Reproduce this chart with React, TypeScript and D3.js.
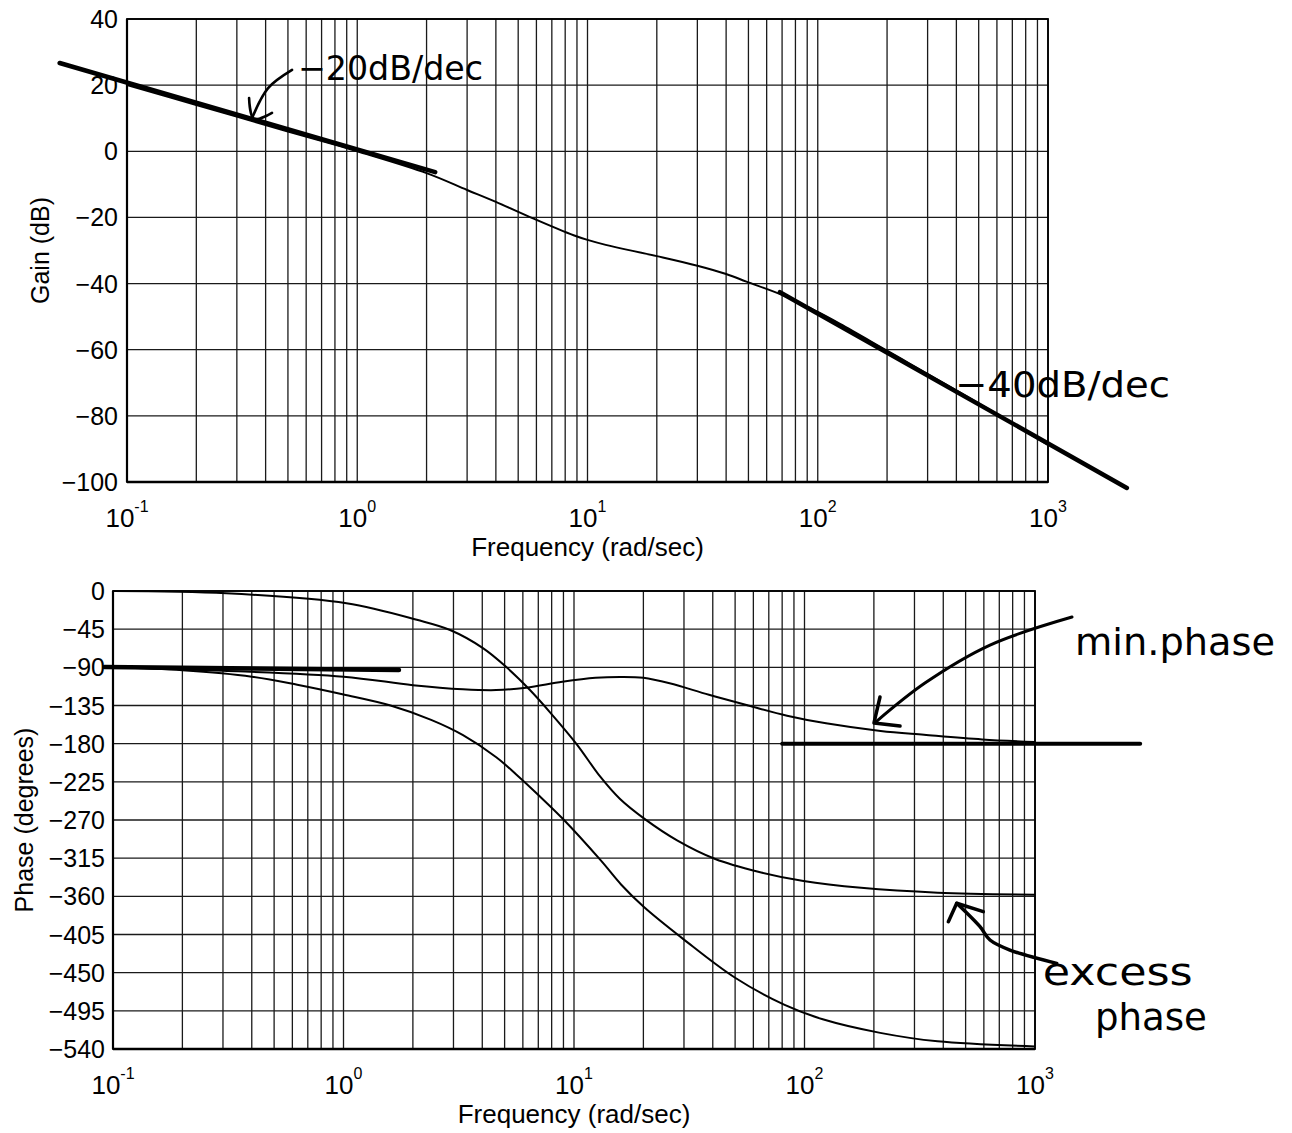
import React from "react";
import * as d3 from "d3";

// ---------- data ----------
const freqDecades = [-1, 0, 1, 2, 3];
const gainTicks = [40, 20, 0, -20, -40, -60, -80, -100];
const phaseTicks = [0, -45, -90, -135, -180, -225, -270, -315, -360, -405, -450, -495, -540];

const gainFreq = [0.1, 0.2, 0.5, 0.84, 1, 2, 3, 4, 5.8, 8.7, 10, 12, 20, 30, 40, 49, 71, 100, 125, 200, 500, 1000];
const gainDb = [20, 14, 6, 1.6, 0, -6.6, -11.7, -15.3, -20.3, -25.4, -26.8, -28.3, -31.7, -34.6, -37.1, -39.4, -43.6, -48.6, -52.2, -60.3, -76.2, -88.8];

const minFreq = [0.1, 0.3, 1, 2, 3.3, 4.6, 6.2, 8.9, 12.4, 16, 20, 26, 38.5, 57, 84, 124, 214, 330, 590, 1000];
const minDeg = [-90, -94, -101, -111, -115.8, -116.8, -114, -107, -102.3, -101.3, -102.3, -108.8, -122.4, -135, -147, -156, -165, -169.5, -175, -178];

const excessFreq = [0.1, 0.31, 1.03, 2.08, 2.9, 4.04, 5.1, 6.44, 7.87, 10.3, 13, 15.8, 20.3, 28, 41, 63, 99, 176, 378, 1000];
const excessDeg = [0, -2.7, -14.5, -34, -46, -67.6, -90, -116.7, -143, -181, -219, -245, -269, -294, -316, -331, -342, -350, -355.7, -358];

const totalFreq = [0.1, 0.2, 0.4, 0.63, 1, 1.6, 2.4, 3.3, 4.6, 5.6, 7.1, 8.9, 13.1, 16, 20, 30, 50, 82, 120, 213, 378, 1000];
const totalDeg = [-90, -93.5, -101, -110.5, -122, -135, -152, -170, -196, -216, -242, -268, -318, -346, -372, -411, -456, -488, -505, -521, -531, -537];

// hand-drawn asymptotes
const slope20Freq = [0.051, 2.18];
const slope20Db = [26.7, -6.3];
const slope40Freq = [68.5, 2200];
const slope40Db = [-42.6, -101.8];
const phase90Freq = [0.092, 1.74];
const phase90Deg = [-89.5, -93];
const phase180Freq = [80, 2860];
const phase180Deg = [-180, -180];

// hand-drawn arrows (data coordinates)
const arrow20Freq = [0.521, 0.41, 0.3525];
const arrow20Db = [24.6, 19.1, 10.67];
const arrow20HeadFreq = [0.339, 0.356, 0.4263];
const arrow20HeadDb = [16.1, 9.76, 11.6];

const arrowMinFreq = [1447, 638, 333, 206];
const arrowMinDeg = [-30.7, -63.7, -108.5, -153.3];
const arrowMinHeadFreq = [212.6, 200.2, 259.7];
const arrowMinHeadDeg = [-125, -155.6, -159.2];

const arrowExFreq = [1242.6, 778.9, 638, 577.4, 457.5];
const arrowExDeg = [-439, -423.3, -411.5, -395.8, -368.2];
const arrowExHeadFreq = [420.7, 457.5, 596.7];
const arrowExHeadDeg = [-389.9, -368.2, -378.1];

// ---------- layout ----------
const W = 1292;
const H = 1133;
const FONT = "'Liberation Sans', Arial, Helvetica, sans-serif";
const HAND = "'DejaVu Sans', 'Noto Sans', sans-serif";

const X1 = d3.scaleLog().domain([0.1, 1000]).range([127, 1048]);
const Y1 = d3.scaleLinear().domain([-100, 40]).range([482, 19]);
const X2 = d3.scaleLog().domain([0.1, 1000]).range([113, 1035]);
const Y2 = d3.scaleLinear().domain([-540, 0]).range([1049, 591]);

function minorFreqs(): number[] {
  const out: number[] = [];
  for (let d = -1; d < 3; d++) {
    for (let k = 1; k <= 9; k++) out.push(k * Math.pow(10, d));
  }
  out.push(1000);
  return out;
}

function pathOf(xs: number[], ys: number[], xs_: any, ys_: any, smooth = true) {
  const pts = xs.map((f, i) => [xs_(f), ys_(ys[i])] as [number, number]);
  const gen = d3.line<[number, number]>().x((p) => p[0]).y((p) => p[1]);
  if (smooth) gen.curve(d3.curveCatmullRom.alpha(0.5));
  return gen(pts) || "";
}

function pathRaw(xs: number[], ys: number[], xs_: any, ys_: any) {
  const pts = xs.map((f, i) => [xs_(f), ys_(ys[i])] as [number, number]);
  return d3.line<[number, number]>().curve(d3.curveCatmullRom)(pts) || "";
}

function Panel({ X, Y, yTicks, yLabel, yLabelX, labelGap }: any) {
  const [x0, x1] = X.range();
  const [yb, yt] = Y.range();
  const grid = minorFreqs();
  return (
    <g>
      {grid.map((f, i) => (
        <line key={"v" + i} x1={X(f)} x2={X(f)} y1={yt} y2={yb} stroke="#1a1a1a" strokeWidth={1.3} />
      ))}
      {yTicks.map((t: number, i: number) => (
        <line key={"h" + i} x1={x0} x2={x1} y1={Y(t)} y2={Y(t)} stroke="#1a1a1a" strokeWidth={1.3} />
      ))}
      <rect x={x0} y={yt} width={x1 - x0} height={yb - yt} fill="none" stroke="#000" strokeWidth={1.8} />
      <line x1={x0} x2={x0} y1={yt} y2={yb} stroke="#000" strokeWidth={2.2} />
      <line x1={x0} x2={x1} y1={yb} y2={yb} stroke="#000" strokeWidth={2.4} />
      {yTicks.map((t: number, i: number) => (
        <text key={"yl" + i} x={x0 - labelGap} y={Y(t)} dy="0.36em" textAnchor="end" fontFamily={FONT} fontSize={25} fill="#000">
          {t < 0 ? "\u2212" + Math.abs(t) : String(t)}
        </text>
      ))}
      {freqDecades.map((d, i) => (
        <text key={"xl" + i} x={X(Math.pow(10, d))} y={yb + 45} textAnchor="middle" fontFamily={FONT} fontSize={26} fill="#000">
          10
          <tspan fontSize={16} dy={-15}>{d < 0 ? "-" + Math.abs(d) : String(d)}</tspan>
        </text>
      ))}
      <text x={(x0 + x1) / 2} y={yb + 74} textAnchor="middle" fontFamily={FONT} fontSize={26} fill="#000">
        Frequency (rad/sec)
      </text>
      <text
        transform={`translate(${yLabelX},${(yt + yb) / 2}) rotate(-90)`}
        textAnchor="middle"
        dy="0.35em"
        fontFamily={FONT}
        fontSize={25}
        fill="#000"
      >
        {yLabel}
      </text>
    </g>
  );
}

export default function App() {
  return (
    <div style={{ position: "absolute", left: 0, top: 0, background: "#fff" }}>
      <svg width={W} height={H} viewBox={`0 0 ${W} ${H}`} style={{ display: "block", background: "#fff" }}>
        <rect x={0} y={0} width={W} height={H} fill="#fff" />
        <Panel X={X1} Y={Y1} yTicks={gainTicks} yLabel="Gain (dB)" yLabelX={40} labelGap={9} />
        <Panel X={X2} Y={Y2} yTicks={phaseTicks} yLabel="Phase (degrees)" yLabelX={24} labelGap={8} />

        {/* gain curve */}
        <path d={pathOf(gainFreq, gainDb, X1, Y1)} fill="none" stroke="#000" strokeWidth={2} />
        {/* phase curves */}
        <path d={pathOf(minFreq, minDeg, X2, Y2)} fill="none" stroke="#000" strokeWidth={2} />
        <path d={pathOf(excessFreq, excessDeg, X2, Y2)} fill="none" stroke="#000" strokeWidth={2} />
        <path d={pathOf(totalFreq, totalDeg, X2, Y2)} fill="none" stroke="#000" strokeWidth={2} />

        {/* hand drawn asymptotes */}
        <path d={pathOf(slope20Freq, slope20Db, X1, Y1, false)} fill="none" stroke="#000" strokeWidth={4.5} strokeLinecap="round" />
        <path d={pathOf(slope40Freq, slope40Db, X1, Y1, false)} fill="none" stroke="#000" strokeWidth={4.5} strokeLinecap="round" />
        <path d={pathOf(phase90Freq, phase90Deg, X2, Y2, false)} fill="none" stroke="#000" strokeWidth={4.5} strokeLinecap="round" />
        <path d={pathOf(phase180Freq, phase180Deg, X2, Y2, false)} fill="none" stroke="#000" strokeWidth={4} strokeLinecap="round" />

        {/* hand drawn arrows */}
        <path d={pathRaw(arrow20Freq, arrow20Db, X1, Y1)} fill="none" stroke="#000" strokeWidth={2.6} strokeLinecap="round" />
        <path d={pathRaw(arrow20HeadFreq, arrow20HeadDb, X1, Y1)} fill="none" stroke="#000" strokeWidth={2.6} strokeLinecap="round" strokeLinejoin="round" />
        <path d={pathRaw(arrowMinFreq, arrowMinDeg, X2, Y2)} fill="none" stroke="#000" strokeWidth={3} strokeLinecap="round" />
        <path d={pathOf(arrowMinHeadFreq, arrowMinHeadDeg, X2, Y2, false)} fill="none" stroke="#000" strokeWidth={3.5} strokeLinecap="round" strokeLinejoin="round" />
        <path d={pathRaw(arrowExFreq, arrowExDeg, X2, Y2)} fill="none" stroke="#000" strokeWidth={3.5} strokeLinecap="round" />
        <path d={pathOf(arrowExHeadFreq, arrowExHeadDeg, X2, Y2, false)} fill="none" stroke="#000" strokeWidth={3.5} strokeLinecap="round" strokeLinejoin="round" />

        {/* handwritten labels */}
        <text x={X1(0.553)} y={Y1(21.55)} fontFamily={HAND} fontSize={34} textLength={185} lengthAdjust="spacingAndGlyphs" fill="#000">
          −20dB/dec
        </text>
        <text x={X1(394.6)} y={Y1(-74.3)} fontFamily={HAND} fontSize={36} textLength={215} lengthAdjust="spacingAndGlyphs" fill="#000">
          −40dB/dec
        </text>
        <text x={X2(1491)} y={Y2(-75.5)} fontFamily={HAND} fontSize={38} textLength={200} lengthAdjust="spacingAndGlyphs" fill="#000">
          min.phase
        </text>
        <text x={X2(1080)} y={Y2(-464.6)} fontFamily={HAND} fontSize={38} textLength={150} lengthAdjust="spacingAndGlyphs" fill="#000">
          excess
        </text>
        <text x={X2(1820)} y={Y2(-517.6)} fontFamily={HAND} fontSize={38} textLength={112} lengthAdjust="spacingAndGlyphs" fill="#000">
          phase
        </text>
      </svg>
    </div>
  );
}
